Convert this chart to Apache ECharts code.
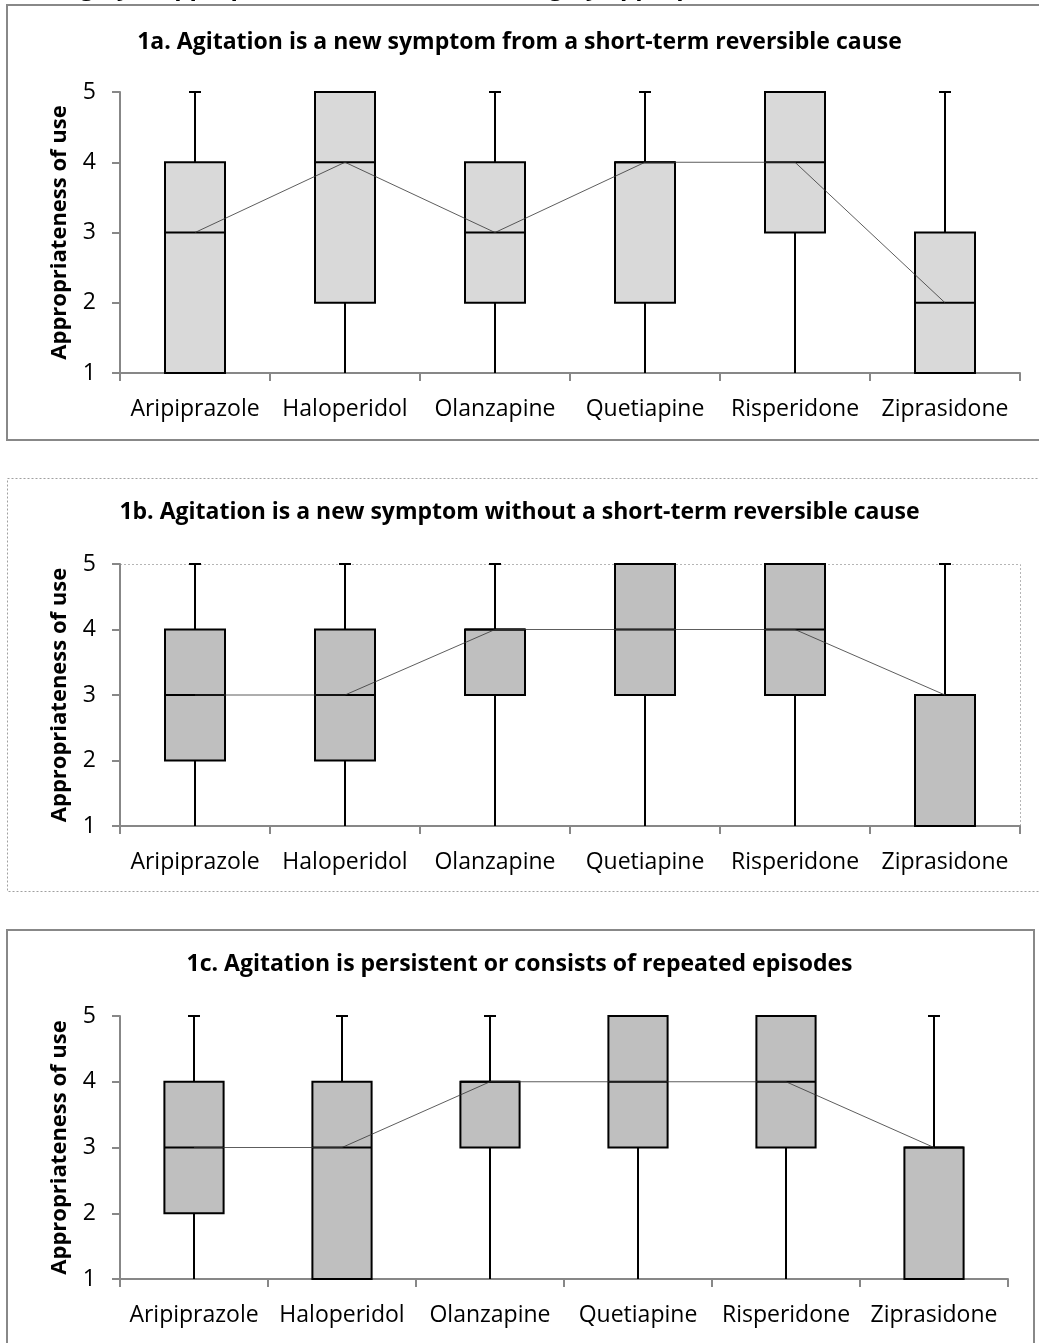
<!DOCTYPE html>
<html><head><meta charset="utf-8">
<script src="https://cdn.jsdelivr.net/npm/echarts@6/dist/echarts.min.js"></script>
<style>html,body{margin:0;padding:0;background:#fff;overflow:hidden}#c{width:1039px;height:1343px}</style>
</head><body><div id="c"></div>
<script>
// ---------- data ----------
const categories = ['Aripiprazole','Haloperidol','Olanzapine','Quetiapine','Risperidone','Ziprasidone'];
const yTicks = [1,2,3,4,5];
const yAxisTitle = 'Appropriateness of use';
const scaleNote = '(1 = highly inappropriate, 3 = uncertain, 5 = highly appropriate,';
const panelTitles = [
  '1a. Agitation is a new symptom from a short-term reversible cause',
  '1b. Agitation is a new symptom without a short-term reversible cause',
  '1c. Agitation is persistent or consists of repeated episodes'
];
// 1a
const a_min = [1,1,1,1,1,1];
const a_q1  = [1,2,2,2,3,1];
const a_med = [3,4,3,4,4,2];
const a_q3  = [4,5,4,4,5,3];
const a_max = [5,5,5,5,5,5];
// 1b
const b_min = [1,1,1,1,1,1];
const b_q1  = [2,2,3,3,3,1];
const b_med = [3,3,4,4,4,3];
const b_q3  = [4,4,4,5,5,3];
const b_max = [5,5,5,5,5,5];
// 1c
const c_min = [1,1,1,1,1,1];
const c_q1  = [2,1,3,3,3,1];
const c_med = [3,3,4,4,4,3];
const c_q3  = [4,4,4,5,5,3];
const c_max = [5,5,5,5,5,5];

// ---------- chart ----------
const FONT = '"Open Sans", "Noto Sans", sans-serif';
const AXIS_GRAY = '#878787';
const chart = echarts.init(document.getElementById('c'), null, {renderer:'canvas'});

function rows(mn,q1,md,q3,mx){ return categories.map((c,i)=>[i,mn[i],q1[i],md[i],q3[i],mx[i]]); }

function seg(x1,y1,x2,y2){ return {type:'line', shape:{x1,y1,x2,y2}, style:{stroke:'#000', lineWidth:2}}; }

function boxRenderer(fill){
  return function(params, api){
    const c = api.value(0);
    const lo=api.value(1), q1=api.value(2), md=api.value(3), q3=api.value(4), hi=api.value(5);
    const bw = api.size([1,0])[0]*0.4;
    const pLo=api.coord([c,lo]), pQ1=api.coord([c,q1]), pMd=api.coord([c,md]), pQ3=api.coord([c,q3]), pHi=api.coord([c,hi]);
    const x = pMd[0];
    const ch = [];
    if (hi>q3){ ch.push(seg(x,pQ3[1],x,pHi[1])); ch.push(seg(x-6,pHi[1],x+6,pHi[1])); }
    if (lo<q1){ ch.push(seg(x,pQ1[1],x,pLo[1])); }
    ch.push({type:'rect', shape:{x:x-bw/2, y:pQ3[1], width:bw, height:pQ1[1]-pQ3[1]},
             style:{fill:fill, stroke:'#000', lineWidth:2}});
    ch.push(seg(x-bw/2,pMd[1],x+bw/2,pMd[1]));
    return {type:'group', children:ch};
  };
}

const grids = [
  {left:120, top:92,  width:900, height:281},
  {left:120, top:564, width:900, height:262},
  {left:120, top:1016,width:888, height:263}
];
const titleTops = [31, 501, 953];
const fills = ['#d9d9d9','#bfbfbf','#bfbfbf'];
const sets = [
  rows(a_min,a_q1,a_med,a_q3,a_max),
  rows(b_min,b_q1,b_med,b_q3,b_max),
  rows(c_min,c_q1,c_med,c_q3,c_max)
];
const meds = [a_med,b_med,c_med];

const xAxes = [], yAxes = [], series = [], titles = [];
grids.forEach((g,i)=>{
  titles.push({text:panelTitles[i], left:'center', top:titleTops[i], padding:0,
    textStyle:{fontFamily:FONT, fontWeight:'bold', fontSize:23, color:'#000'}});
  xAxes.push({type:'category', gridIndex:i, data:categories, boundaryGap:true,
    axisLine:{lineStyle:{color:AXIS_GRAY, width:2}},
    axisTick:{show:true, length:8, lineStyle:{color:AXIS_GRAY, width:2}},
    axisLabel:{fontFamily:FONT, fontSize:23, color:'#000', margin:25, interval:0},
    splitLine:{show:false}});
  yAxes.push({type:'value', gridIndex:i, min:yTicks[0], max:yTicks[yTicks.length-1], interval:1,
    name:yAxisTitle, nameLocation:'middle', nameGap:49,
    nameTextStyle:{fontFamily:FONT, fontWeight:'bold', fontSize:22, color:'#000'},
    axisLine:{show:true, lineStyle:{color:AXIS_GRAY, width:2}},
    axisTick:{show:true, length:8, lineStyle:{color:AXIS_GRAY, width:2}},
    axisLabel:{fontFamily:FONT, fontSize:23, color:'#000', margin:24},
    splitLine:{show:false}});
  series.push({type:'custom', xAxisIndex:i, yAxisIndex:i, data:sets[i],
    encode:{x:0, y:[1,2,3,4,5]}, renderItem:boxRenderer(fills[i]), z:2, clip:false});
  series.push({type:'line', xAxisIndex:i, yAxisIndex:i, data:meds[i], symbol:'none',
    lineStyle:{color:'#333', width:0.8}, z:5, silent:true});
});

const option = {
  backgroundColor:'#fff',
  animation:false,
  title:titles,
  grid:grids,
  xAxis:xAxes,
  yAxis:yAxes,
  series:series,
  graphic:[
    {type:'text', left:9, top:-24, style:{text:scaleNote, font:'bold 24px '+FONT, fill:'#000'}, z:10},
    {type:'rect', shape:{x:7, y:5, width:1045, height:435}, style:{fill:'none', stroke:'#888', lineWidth:2}, z:-1},
    {type:'rect', shape:{x:7.5, y:478.5, width:1045, height:413}, style:{fill:'none', stroke:'#a0a0a0', lineWidth:1, lineDash:[2,2]}, z:-1},
    {type:'polyline', shape:{points:[[120,564.5],[1020.5,564.5],[1020.5,826]]}, style:{fill:'none', stroke:'#b5b5b5', lineWidth:1, lineDash:[2,2]}, z:-1},
    {type:'rect', shape:{x:7, y:930, width:1027, height:430}, style:{fill:'none', stroke:'#888', lineWidth:2}, z:-1}
  ]
};
chart.setOption(option);
</script>
</body></html>
